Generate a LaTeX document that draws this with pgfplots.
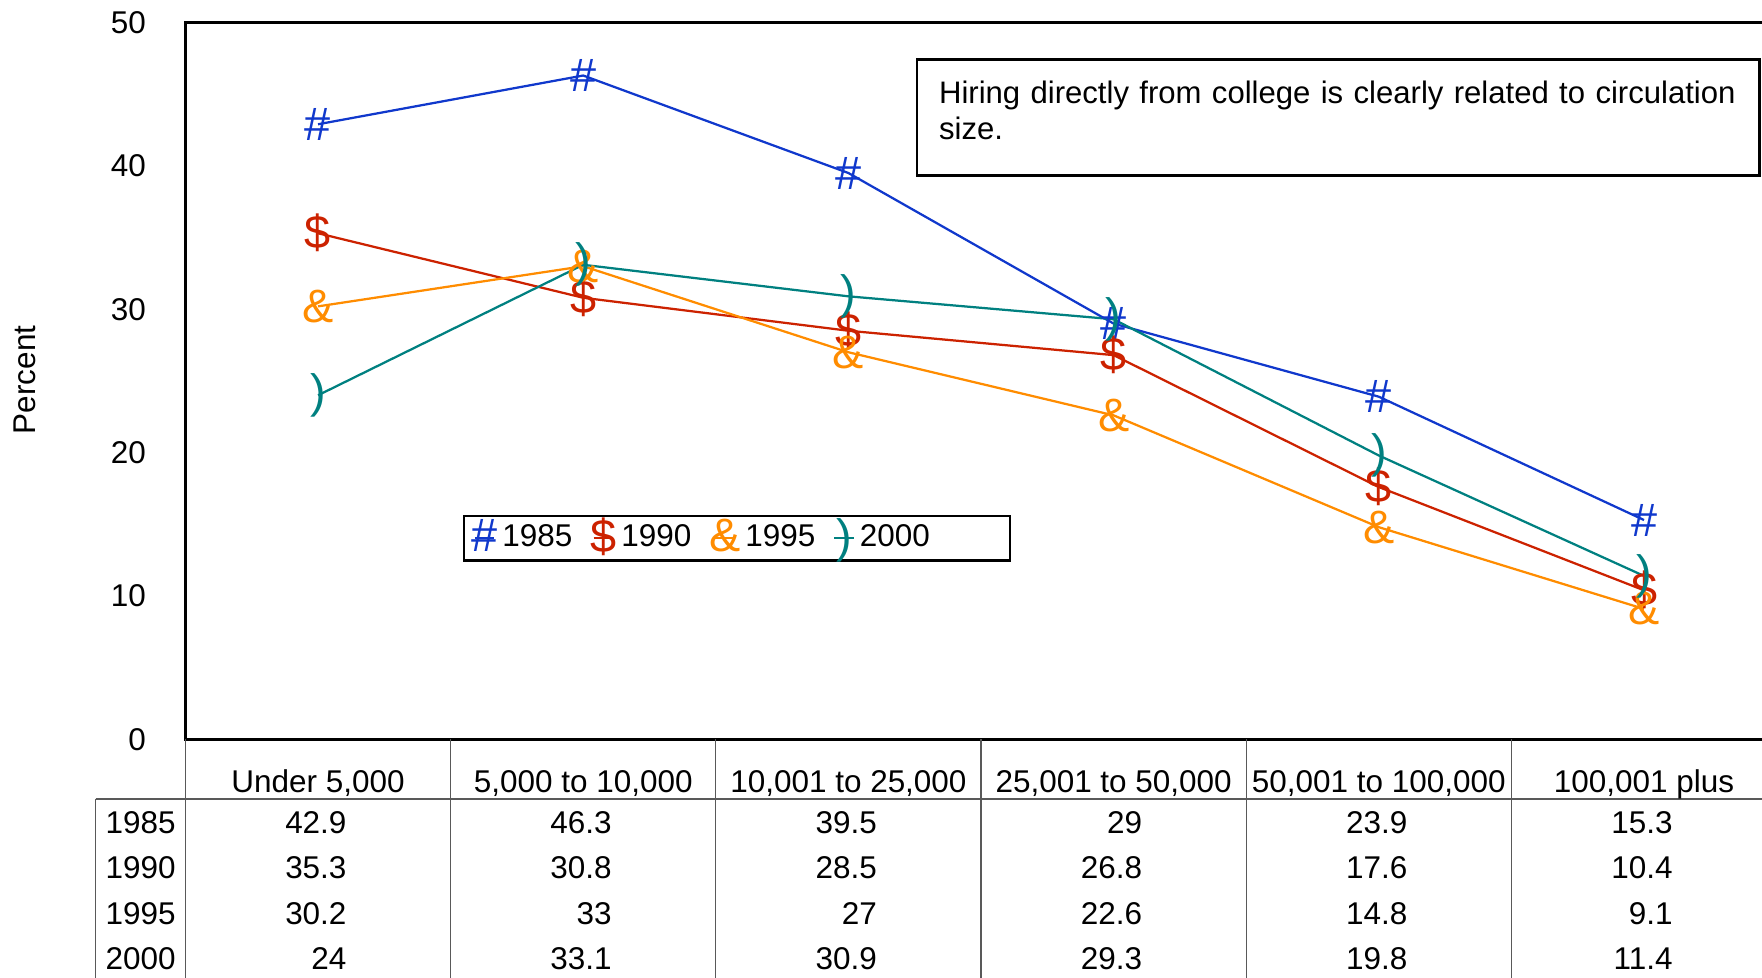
\documentclass[border=0pt]{standalone}
\usepackage{fontspec}
\setmainfont{Liberation Sans}
\usepackage{pgfplots}
\pgfplotsset{compat=1.18}
\usepackage{pgfplotstable}

\definecolor{c85}{RGB}{16,56,204}
\definecolor{c90}{RGB}{204,34,0}
\definecolor{c95}{RGB}{255,140,0}
\definecolor{c00}{RGB}{0,128,128}

\newcommand{\fs}{\fontsize{8.4}{9.6}\selectfont}
\newcommand{\mk}{\fontsize{12.5}{12.5}\selectfont}

% circulation size index, then percent per year
\pgfplotstableread{
x y85 y90 y95 y00
0 42.9 35.3 30.2 24
1 46.3 30.8 33 33.1
2 39.5 28.5 27 30.9
3 29 26.8 22.6 29.3
4 23.9 17.6 14.8 19.8
5 15.3 10.4 9.1 11.4
}\data

\begin{document}
\begin{tikzpicture}
\useasboundingbox (0,0) rectangle (470.4pt,-261pt);
\begin{axis}[
    at={(49.5pt,-197.4pt)}, anchor=south west,
    scale only axis, width=424.8pt, height=191.4pt,
    xmin=-0.5, xmax=5.5, ymin=0, ymax=50,
    ytick={0,10,...,50}, xtick=\empty,
    axis line style={line width=0.75pt},
    major tick length=0pt,
    tick label style={font=\fs},
    /pgf/number format/assume math mode=true,
    yticklabel style={xshift=-7pt},
    ylabel={Percent},
    ylabel style={at={(axis description cs:-0.101,0.5016)}, anchor=center, font=\fs},
    clip=false,
    legend style={at={(0.1744,0.3135)}, anchor=north west, legend columns=4,
        draw=black, line width=0.6pt, font=\fs, inner xsep=2pt, inner ysep=0.6pt,
        nodes={inner xsep=1.3pt, inner ysep=0.5pt},
        /tikz/every odd column/.style={column sep=0pt},
        /tikz/every even column/.style={column sep=3.5pt}},
    legend image code/.code={\draw[mark repeat=2,mark phase=2]
        plot coordinates {(0pt,0pt) (2.6pt,0pt) (5.2pt,0pt)};},
    every axis plot/.append style={line width=0.6pt, mark=text, text mark as node=true},
]
\addplot[c85, text mark={\#}, text mark style={font=\mk, text=c85, inner sep=0pt}] table[x=x,y=y85]{\data};
\addlegendentry{1985}
\addplot[c90, text mark={\$}, text mark style={font=\mk, text=c90, inner sep=0pt}] table[x=x,y=y90]{\data};
\addlegendentry{1990}
\addplot[c95, text mark={\&}, text mark style={font=\mk, text=c95, inner sep=0pt}] table[x=x,y=y95]{\data};
\addlegendentry{1995}
\addplot[c00, text mark={)}, text mark style={font=\mk, text=c00, inner sep=0pt}] table[x=x,y=y00]{\data};
\addlegendentry{2000\rule{18pt}{0pt}}
\end{axis}

\begin{scope}[x=0.3pt,y=-0.3pt]
% note box
\draw[line width=0.75pt] (816,53) rectangle (1566,156);
\node[anchor=north west, inner sep=0pt, text width=230pt, align=left, font=\fontsize{8.3}{9.6}\selectfont]
    at (835,71) {Hiring directly from college is clearly related to circulation\\size.};
% data table
\draw[gray!70!black, line width=0.35pt] (85,711) -- (1568,711);
\draw[gray!70!black, line width=0.35pt] (85,711) -- (85,870);
\foreach \xx in {165,401,637,873,1109,1345}
    \draw[gray!70!black, line width=0.35pt] (\xx,658) -- (\xx,870);
\foreach \lab [count=\i from 0] in {{Under 5,000},{5,000 to 10,000},{10,001 to 25,000},{25,001 to 50,000},{50,001 to 100,000},{100,001 plus}}
    \node[anchor=base, inner sep=0pt, font=\fs] at ({283+236*\i},705) {\lab};
\foreach \yr/\yy in {1985/742,1990/782,1995/823,2000/863}
    \node[anchor=base east, inner sep=0pt, font=\fs] at (157,\yy) {\yr};
\foreach \v [count=\i from 0] in {42.9,46.3,39.5,29,23.9,15.3}
    \node[anchor=base east, inner sep=0pt, font=\fs] at ({309+236*\i},742) {\v};
\foreach \v [count=\i from 0] in {35.3,30.8,28.5,26.8,17.6,10.4}
    \node[anchor=base east, inner sep=0pt, font=\fs] at ({309+236*\i},782) {\v};
\foreach \v [count=\i from 0] in {30.2,33,27,22.6,14.8,9.1}
    \node[anchor=base east, inner sep=0pt, font=\fs] at ({309+236*\i},823) {\v};
\foreach \v [count=\i from 0] in {24,33.1,30.9,29.3,19.8,11.4}
    \node[anchor=base east, inner sep=0pt, font=\fs] at ({309+236*\i},863) {\v};
\end{scope}
\end{tikzpicture}
\end{document}
